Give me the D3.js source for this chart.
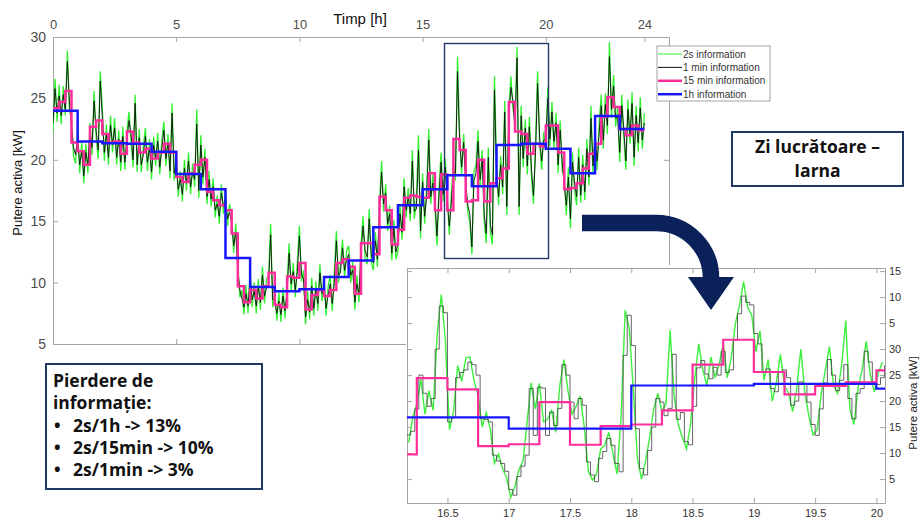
<!DOCTYPE html>
<html>
<head>
<meta charset="utf-8">
<script src="https://cdn.jsdelivr.net/npm/d3@7"></script>
<style>
  body { margin: 0; background: #fff; }
  svg { display: block; }
</style>
</head>
<body>
<svg id="chart" width="921" height="518"></svg>
<script>
// ---------- Full day, 0–24 h ----------
// 1 h averages (one value per hour, from 0 h)
const hourly = [24.0, 21.5, 21.35, 21.3, 20.66, 18.84, 17.6, 12.0, 9.64, 9.3, 9.45, 10.45,
                11.8, 14.5, 16.3, 17.6, 18.74, 17.84, 21.2, 21.3, 20.9, 18.9, 23.56, 22.5];

// 15 min averages (one value per quarter hour, from 0 h)
const quarterHour = [
  24.2, 24.7, 25.6, 21.4,   20.7, 19.6, 22.7, 23.2,   22.1, 21.4, 21.5, 20.5,
  22.3, 21.4, 20.6, 20.9,   20.1, 20.6, 21.3, 20.6,   18.6, 18.2, 18.9, 19.6,
  20.0, 17.4, 16.7, 16.3,   15.9, 14.0, 9.7, 8.4,     9.4, 8.7, 9.7, 10.8,
  8.2, 8.0, 10.5, 10.4,     11.6, 7.8, 9.0, 9.4,      8.9, 9.4, 11.6, 11.9,
  11.3, 9.1, 13.2, 13.2,    12.3, 17.0, 15.9, 13.1,   14.3, 16.9, 17.1, 17.0,
  16.9, 18.9, 15.9, 18.8,   15.9, 21.7, 20.8, 16.6,   16.7, 20.0, 16.6, 18.1,
  18.5, 19.3, 24.7, 22.3,   22.1, 20.5, 21.3, 21.1,   22.8, 22.8, 20.6, 17.6,
  17.7, 18.1, 19.3, 20.5,   21.3, 23.5, 25.1, 24.3,   22.5, 22.0, 22.8, 22.4
];

// 1 min trace, sampled every 5 min from 0 h to 24 h
const minuteTrace = [
  23.0, 25.8, 23.8, 25.2, 23.6, 25.3, 24.1, 28.0, 24.7, 22.8, 21.0, 20.4,
  21.8, 19.6, 20.7, 18.7, 20.6, 19.5, 22.3, 21.0, 24.8, 22.4, 20.8, 26.4,
  23.6, 20.6, 22.1, 20.2, 22.8, 21.2, 22.6, 20.2, 21.7, 19.8, 21.9, 19.8,
  21.6, 23.2, 22.1, 20.0, 24.6, 19.6, 21.8, 19.6, 20.4, 21.9, 19.8, 21.0,
  19.0, 21.2, 20.1, 21.5, 19.4, 20.9, 22.4, 20.1, 21.4, 19.1, 23.8, 18.9,
  19.8, 17.6, 18.4, 17.2, 19.3, 18.1, 19.9, 17.8, 19.0, 18.4, 22.9, 17.5,
  21.2, 18.6, 20.2, 17.0, 18.4, 16.8, 17.8, 15.9, 16.4, 15.4, 17.3, 16.2,
  16.8, 15.2, 15.7, 14.9, 13.0, 14.1, 11.0, 9.4, 8.7, 8.0, 9.1, 8.1,
  10.3, 8.6, 9.3, 8.1, 9.6, 8.4, 10.6, 8.9, 9.6, 9.9, 13.9, 8.6,
  8.6, 7.5, 8.5, 7.4, 8.9, 7.7, 9.2, 12.4, 9.9, 10.9, 9.4, 10.9,
  13.8, 10.7, 10.3, 7.2, 8.6, 7.6, 9.7, 7.9, 9.4, 8.3, 10.8, 9.1,
  9.8, 7.9, 9.0, 9.9, 8.3, 10.0, 13.4, 10.6, 10.8, 12.8, 11.0, 11.9,
  12.3, 10.6, 11.0, 8.4, 9.9, 9.0, 12.4, 14.6, 12.6, 12.1, 15.2, 12.3,
  11.6, 13.4, 11.9, 15.6, 19.0, 16.4, 17.3, 14.8, 15.6, 12.4, 14.4, 12.5,
  13.2, 15.6, 14.1, 17.8, 15.9, 17.0, 15.6, 19.9, 15.8, 16.0, 20.8, 14.2,
  18.2, 15.4, 17.1, 21.6, 17.0, 18.1, 16.8, 13.8, 17.1, 19.8, 17.2, 19.4,
  16.6, 14.6, 16.5, 19.0, 18.9, 27.2, 21.6, 19.4, 21.4, 17.9, 16.3, 15.6,
  12.9, 18.3, 18.9, 21.5, 18.4, 20.1, 15.6, 14.0, 20.2, 14.7, 13.9, 25.7,
  18.9, 17.0, 19.6, 17.8, 23.9, 16.2, 23.4, 25.9, 24.8, 22.4, 28.3, 16.2,
  23.6, 20.1, 22.6, 19.5, 22.7, 19.3, 17.1, 20.6, 26.2, 21.8, 19.9, 21.6,
  21.7, 25.0, 21.7, 23.9, 21.5, 23.0, 19.6, 22.4, 19.8, 17.9, 16.3, 18.6,
  15.2, 19.8, 18.1, 17.0, 20.2, 17.1, 19.6, 17.4, 20.9, 18.6, 23.4, 19.5,
  21.8, 19.9, 22.2, 24.4, 21.6, 24.5, 22.8, 28.4, 24.1, 26.0, 23.4, 23.5,
  20.6, 24.4, 22.5, 19.9, 24.1, 22.0, 24.6, 20.2, 23.6, 21.4, 24.2, 21.6, 23.0
];

// 2 s trace extremes, on the same 5 min grid
const secondTrace = [
  22.2, 26.6, 23.1, 26.1, 22.9, 26.0, 23.6, 28.9, 24.0, 23.5, 20.3, 19.7,
  22.6, 18.9, 21.4, 18.1, 21.3, 18.9, 23.0, 20.4, 25.6, 21.9, 20.1, 27.2,
  24.3, 19.9, 22.9, 19.6, 23.6, 20.6, 23.4, 19.6, 22.4, 19.1, 22.7, 19.2,
  22.3, 23.9, 21.5, 19.4, 25.3, 19.0, 22.5, 19.0, 21.1, 22.6, 19.1, 21.7,
  18.4, 21.9, 19.5, 22.2, 18.8, 21.6, 23.1, 19.5, 22.1, 18.5, 24.6, 18.3,
  20.5, 17.0, 19.1, 16.6, 20.0, 17.5, 20.6, 17.2, 19.7, 17.8, 24.1, 16.9,
  22.0, 18.0, 20.9, 16.4, 19.1, 16.2, 18.5, 15.3, 17.1, 14.8, 18.0, 15.6,
  17.5, 14.6, 16.4, 15.6, 12.4, 14.8, 11.7, 8.8, 9.4, 7.4, 9.8, 7.5,
  11.0, 8.0, 10.0, 7.5, 10.3, 7.8, 11.3, 8.3, 10.3, 10.6, 14.8, 8.0,
  9.3, 6.9, 9.2, 6.8, 9.6, 7.1, 9.9, 13.2, 9.3, 11.6, 8.8, 11.6,
  14.6, 10.1, 11.0, 6.6, 9.3, 7.0, 10.4, 7.3, 10.1, 7.7, 11.5, 8.5,
  10.5, 7.3, 9.7, 10.6, 7.7, 10.7, 14.2, 10.0, 11.5, 13.5, 10.4, 12.6,
  13.0, 10.0, 11.7, 7.8, 10.6, 8.4, 13.1, 15.4, 12.0, 11.5, 16.0, 11.7,
  11.0, 14.1, 11.3, 16.3, 19.9, 15.8, 18.0, 14.2, 16.3, 11.8, 15.1, 11.9,
  12.6, 16.3, 13.5, 18.5, 15.3, 17.7, 15.0, 20.8, 15.2, 16.7, 22.0, 13.6,
  18.9, 14.8, 17.8, 22.5, 16.4, 18.8, 16.2, 13.0, 17.8, 20.6, 16.6, 20.1,
  17.3, 13.9, 17.2, 19.7, 18.3, 28.4, 22.3, 18.8, 22.1, 18.6, 15.7, 14.9,
  12.3, 19.0, 19.6, 22.4, 17.8, 20.8, 15.0, 13.2, 21.0, 14.1, 13.1, 26.8,
  19.6, 16.3, 20.3, 17.2, 24.8, 15.5, 24.1, 26.8, 24.2, 23.1, 29.2, 15.5,
  24.4, 19.4, 23.3, 18.8, 23.5, 18.6, 16.4, 21.4, 27.2, 21.2, 19.2, 22.3,
  21.0, 25.9, 21.1, 24.7, 20.8, 23.8, 18.9, 23.2, 19.1, 18.6, 15.5, 19.4,
  14.4, 20.6, 17.5, 16.3, 21.0, 16.5, 20.4, 16.7, 21.7, 17.9, 24.4, 18.8,
  22.6, 19.2, 23.0, 25.3, 20.9, 25.4, 22.1, 29.6, 23.4, 26.9, 22.7, 24.3,
  19.8, 25.3, 21.8, 19.2, 24.9, 21.3, 25.5, 19.5, 24.4, 20.7, 25.1, 20.9, 23.8
];

const dayTicks = [0, 5, 10, 15, 20, 24];
const powerTicks = [5, 10, 15, 20, 25, 30];

const legendLabels = ["2s information", "1 min information", "15 min information", "1h information"];

// ---------- Detail window, 16:10–20:04 ----------
const zoomHourly = [16.86, 14.7, 23.0, 23.3, 22.4];                 // from 16 h
const zoomQuarter = [9.75, 24.4, 22.25, 11.35, 11.7, 19.8, 11.6, 15.2,
                     15.5, 18.2, 27.0, 31.8, 25.6, 21.3, 22.9, 23.6, 25.9]; // from 16:00
// 1 min trace, every 2 min from 16:10
const zoomMinute = [
  13.5, 14.2, 18.5, 25.0, 21.5, 19.0, 20.5, 30.0, 38.3, 37.0,
  16.0, 16.8, 24.5, 25.5, 26.0, 27.5, 27.0, 25.0, 16.6, 16.5,
  16.0, 9.6, 8.5, 8.0, 6.5, 3.0, 1.9, 5.5, 7.5, 9.6,
  22.4, 13.4, 22.7, 22.5, 13.4, 17.9, 15.3, 18.6, 27.0, 25.0,
  19.8, 16.6, 20.5, 19.2, 8.3, 5.8, 4.5, 9.0, 10.3, 12.8,
  11.5, 8.0, 6.4, 28.8, 36.5, 30.7, 14.7, 7.0, 5.8, 10.5,
  15.0, 20.5, 19.8, 17.2, 18.6, 29.0, 16.5, 17.8, 12.2, 11.6,
  19.0, 26.4, 27.8, 25.2, 24.3, 26.5, 25.0, 29.6, 25.5, 26.0,
  31.7, 36.8, 40.2, 39.0, 38.5, 33.0, 31.0, 25.5, 26.2, 22.4,
  21.8, 25.6, 26.0, 24.5, 19.2, 20.0, 23.7, 23.2, 19.8, 15.5,
  13.4, 18.5, 23.5, 28.0, 25.0, 22.0, 24.0, 27.0, 20.5, 16.6,
  21.5, 22.4, 29.6, 27.5, 23.7, 23.2, 24.5, 26.9
];
// 2 s trace, every 2 min from 16:11
const zoomSecond = [
  12.0, 16.8, 19.5, 24.2, 17.5, 22.0, 18.2, 33.0, 40.5, 31.5,
  14.5, 18.0, 26.8, 23.8, 28.3, 28.5, 24.0, 21.0, 15.0, 17.8,
  14.5, 8.0, 9.8, 7.0, 5.2, 1.5, 3.5, 6.8, 8.5, 16.0,
  23.5, 18.5, 23.4, 16.0, 16.5, 18.2, 14.0, 23.0, 28.0, 22.0,
  17.5, 19.0, 21.0, 15.0, 6.5, 4.8, 6.0, 10.8, 11.5, 14.0,
  10.0, 6.0, 17.0, 37.5, 34.0, 22.0, 9.0, 5.0, 8.5, 13.0,
  18.5, 21.5, 18.0, 19.5, 33.6, 21.0, 15.5, 13.0, 10.8, 15.5,
  24.0, 31.0, 26.0, 23.0, 28.5, 24.5, 27.0, 31.0, 24.5, 28.5,
  35.0, 38.5, 43.0, 38.0, 36.5, 29.5, 33.5, 24.0, 28.0, 20.0,
  23.5, 29.0, 23.0, 21.5, 18.0, 22.5, 30.0, 21.5, 17.0, 13.5,
  14.5, 21.5, 26.0, 30.5, 23.0, 21.5, 27.0, 35.5, 18.5, 15.5,
  22.5, 26.0, 31.5, 25.0, 21.8, 25.5, 27.5
];
const zoomTicks = [16.5, 17, 17.5, 18, 18.5, 19, 19.5, 20];
const zoomPowerTicks = [5, 10, 15, 20, 25, 30, 35, 40, 45];
const zoomPowerLabels = ["5", "10", "15", "20", "25", "30", "5", "10", "15"];

const infoLines = ["Pierdere de", "informație:"];
const lossItems = ["2s/1h -> 13%", "2s/15min -> 10%", "2s/1min -> 3%"];
const titleLines = ["Zi lucrătoare –", "Iarna"];

// ---------- styling ----------
const FONT = "'Liberation Sans', Arial, sans-serif";
const BOLD = "'Open Sans', 'Noto Sans', sans-serif";
const C_GREEN = "#2ef02e", C_BLACK = "#101010", C_PINK = "#ff2d9c", C_BLUE = "#1717ff";
const NAVY = "#1f3864", ARROW = "#0a2259", AXIS = "#a3a3a3";

const svg = d3.select("#chart");
const defs = svg.append("defs");

function styleAxis(g, size, color) {
  g.attr("font-family", FONT).attr("font-size", size);
  g.select(".domain").attr("stroke", AXIS);
  g.selectAll(".tick line").attr("stroke", AXIS);
  g.selectAll(".tick text").attr("fill", color);
}

// ---------- main chart ----------
const M = { left: 53, right: 669, top: 37, bottom: 344 };
const x = d3.scaleLinear().domain([0, 25]).range([M.left, M.right]);
const y = d3.scaleLinear().domain([5, 30]).range([M.bottom, M.top]);

defs.append("clipPath").attr("id", "mainClip").append("rect")
  .attr("x", M.left).attr("y", M.top).attr("width", M.right - M.left).attr("height", M.bottom - M.top);

const main = svg.append("g");

const axTop = main.append("g").attr("transform", `translate(0,${M.top})`)
  .call(d3.axisTop(x).tickValues(dayTicks).tickSizeInner(-5).tickSizeOuter(0).tickPadding(8));
styleAxis(axTop, 13, "#4d4d4d");
const axBottom = main.append("g").attr("transform", `translate(0,${M.bottom})`)
  .call(d3.axisBottom(x).tickValues(dayTicks).tickSizeInner(-5).tickSizeOuter(0).tickFormat(""));
styleAxis(axBottom, 13, "#4d4d4d");
const axLeft = main.append("g").attr("transform", `translate(${M.left},0)`)
  .call(d3.axisLeft(y).tickValues(powerTicks).tickSizeInner(-5).tickSizeOuter(0).tickPadding(7));
styleAxis(axLeft, 14, "#4d4d4d");
const axRight = main.append("g").attr("transform", `translate(${M.right},0)`)
  .call(d3.axisRight(y).tickValues(powerTicks).tickSizeInner(-5).tickSizeOuter(0).tickFormat(""));
styleAxis(axRight, 13, "#4d4d4d");

main.append("text").attr("x", 360).attr("y", 24).attr("text-anchor", "middle")
  .attr("font-family", FONT).attr("font-size", 15).attr("fill", "#111").text("Timp [h]");
main.append("text").attr("transform", "translate(22,183) rotate(-90)").attr("text-anchor", "middle")
  .attr("font-family", FONT).attr("font-size", 13).attr("fill", "#111").text("Putere activa [kW]");

const plot = main.append("g").attr("clip-path", "url(#mainClip)");
const traceLine = d3.line().x((d, i) => x(i / 12)).y(d => y(d));
const stepLine = d3.line().x(d => x(d[0])).y(d => y(d[1])).curve(d3.curveStepAfter);

const quarterPts = quarterHour.map((v, i) => [i / 4, v]);
quarterPts.push([24, quarterHour[quarterHour.length - 1]]);
const hourPts = hourly.map((v, i) => [i, v]);
hourPts.push([24, hourly[hourly.length - 1]]);

plot.append("path").datum(secondTrace).attr("d", traceLine)
  .attr("fill", "none").attr("stroke", C_GREEN).attr("stroke-width", 1.3);
plot.append("path").datum(minuteTrace).attr("d", traceLine)
  .attr("fill", "none").attr("stroke", C_BLACK).attr("stroke-width", 1).attr("stroke-opacity", 0.9);
plot.append("path").datum(quarterPts).attr("d", stepLine)
  .attr("fill", "none").attr("stroke", C_PINK).attr("stroke-width", 2.5);
plot.append("path").datum(hourPts).attr("d", stepLine)
  .attr("fill", "none").attr("stroke", C_BLUE).attr("stroke-width", 2.5);

// legend
const legend = main.append("g").attr("transform", "translate(657,46)");
legend.append("rect").attr("width", 113).attr("height", 55).attr("fill", "#fff").attr("stroke", AXIS);
const legendStyle = [
  { c: C_GREEN, w: 1 }, { c: C_BLACK, w: 1 }, { c: C_PINK, w: 2.5 }, { c: C_BLUE, w: 2.5 }
];
legendLabels.forEach((lab, i) => {
  const ly = 8 + i * 13.4;
  legend.append("line").attr("x1", 1).attr("x2", 25).attr("y1", ly).attr("y2", ly)
    .attr("stroke", legendStyle[i].c).attr("stroke-width", legendStyle[i].w);
  legend.append("text").attr("x", 26).attr("y", ly + 3.5)
    .attr("font-family", FONT).attr("font-size", 10).attr("fill", "#333").text(lab);
});

// window that is shown in detail
main.append("rect").attr("x", 444.5).attr("y", 43.5).attr("width", 104).attr("height", 215)
  .attr("fill", "none").attr("stroke", NAVY).attr("stroke-width", 1.4);

// ---------- detail chart ----------
const Z = { left: 407, right: 885, top: 268, bottom: 503 };
const zx = d3.scaleLinear().domain([16.17, 20.07]).range([Z.left, Z.right]);
const zy = d3.scaleLinear().domain([0.4, 45.6]).range([Z.bottom, Z.top]);

const zoomG = svg.append("g");
zoomG.append("rect").attr("x", 406).attr("y", 265).attr("width", 515).attr("height", 253).attr("fill", "#fff");

defs.append("clipPath").attr("id", "zoomClip").append("rect")
  .attr("x", Z.left).attr("y", Z.top).attr("width", Z.right - Z.left).attr("height", Z.bottom - Z.top);

const zBottom = zoomG.append("g").attr("transform", `translate(0,${Z.bottom})`)
  .call(d3.axisBottom(zx).tickValues(zoomTicks).tickSizeInner(-5).tickSizeOuter(0).tickPadding(6)
    .tickFormat(d => String(d)));
styleAxis(zBottom, 11, "#333");
const zTop = zoomG.append("g").attr("transform", `translate(0,${Z.top})`)
  .call(d3.axisTop(zx).tickValues(zoomTicks).tickSizeInner(-5).tickSizeOuter(0).tickFormat(""));
styleAxis(zTop, 11, "#333");
const zLeft = zoomG.append("g").attr("transform", `translate(${Z.left},0)`)
  .call(d3.axisLeft(zy).tickValues(zoomPowerTicks).tickSizeInner(-5).tickSizeOuter(0).tickFormat(""));
styleAxis(zLeft, 11, "#333");
const zRight = zoomG.append("g").attr("transform", `translate(${Z.right},0)`)
  .call(d3.axisRight(zy).tickValues(zoomPowerTicks).tickSizeInner(-5).tickSizeOuter(0).tickPadding(4)
    .tickFormat((d, i) => zoomPowerLabels[i]));
styleAxis(zRight, 11, "#333");

zoomG.append("text").attr("transform", "translate(917,403) rotate(-90)").attr("text-anchor", "middle")
  .attr("font-family", FONT).attr("font-size", 11.5).attr("fill", "#222").text("Putere activa [kW]");

const zPlot = zoomG.append("g").attr("clip-path", "url(#zoomClip)");
const zSecLine = d3.line().x((d, i) => zx(16 + (11 + 2 * i) / 60)).y(d => zy(d));
const zMinLine = d3.line().x((d, i) => zx(16 + (10 + 2 * i) / 60)).y(d => zy(d)).curve(d3.curveStepAfter);
const zStep = d3.line().x(d => zx(d[0])).y(d => zy(d[1])).curve(d3.curveStepAfter);

const zQuarterPts = zoomQuarter.map((v, i) => [16 + i / 4, v]);
zQuarterPts.push([20.2, zoomQuarter[zoomQuarter.length - 1]]);
const zHourPts = zoomHourly.map((v, i) => [16 + i, v]);
zHourPts.push([20.2, zoomHourly[zoomHourly.length - 1]]);

zPlot.append("path").datum(zoomSecond).attr("d", zSecLine)
  .attr("fill", "none").attr("stroke", "#3df03d").attr("stroke-width", 1.4);
zPlot.append("path").datum(zoomMinute).attr("d", zMinLine)
  .attr("fill", "none").attr("stroke", "#4a4a4a").attr("stroke-width", 1).attr("stroke-opacity", 0.85);
zPlot.append("path").datum(zQuarterPts).attr("d", zStep)
  .attr("fill", "none").attr("stroke", C_PINK).attr("stroke-width", 2.2);
zPlot.append("path").datum(zHourPts).attr("d", zStep)
  .attr("fill", "none").attr("stroke", C_BLUE).attr("stroke-width", 2.2);

// ---------- arrow from the window to the detail ----------
svg.append("path").attr("d", "M582,223 H656 A55,55 0 0 1 711,279")
  .attr("fill", "none").attr("stroke", ARROW).attr("stroke-width", 16.5);
svg.append("path").attr("d", "M688,277 L734,277 L711,310 Z").attr("fill", ARROW);

// ---------- notes ----------
const noteTitle = svg.append("g");
noteTitle.append("rect").attr("x", 732).attr("y", 132).attr("width", 171).attr("height", 54)
  .attr("fill", "#fff").attr("stroke", NAVY).attr("stroke-width", 2);
titleLines.forEach((t, i) => {
  noteTitle.append("text").attr("x", 817.5).attr("y", 153 + i * 24).attr("text-anchor", "middle")
    .attr("font-family", BOLD).attr("font-weight", 700).attr("font-size", 17.5).attr("fill", "#111").text(t);
});

const noteLoss = svg.append("g");
noteLoss.append("rect").attr("x", 46).attr("y", 364).attr("width", 216).attr("height", 125)
  .attr("fill", "#fff").attr("stroke", NAVY).attr("stroke-width", 2);
infoLines.forEach((t, i) => {
  noteLoss.append("text").attr("x", 53).attr("y", 387 + i * 22.3)
    .attr("font-family", BOLD).attr("font-weight", 700).attr("font-size", 17.5).attr("fill", "#111").text(t);
});
lossItems.forEach((t, i) => {
  const by = 387 + (i + 2) * 22.3;
  noteLoss.append("text").attr("x", 54).attr("y", by)
    .attr("font-family", BOLD).attr("font-weight", 700).attr("font-size", 17.5).attr("fill", "#111").text("•");
  noteLoss.append("text").attr("x", 73).attr("y", by)
    .attr("font-family", BOLD).attr("font-weight", 700).attr("font-size", 17.5).attr("fill", "#111").text(t);
});
</script>
</body>
</html>
